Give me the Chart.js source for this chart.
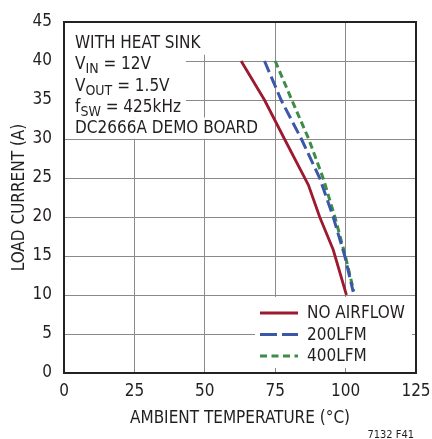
<!DOCTYPE html>
<html>
<head>
<meta charset="utf-8">
<script src="https://cdn.jsdelivr.net/npm/chart.js@4"></script>
<style>
  body { margin: 0; background: #fff; }
  #wrap { width: 432px; height: 439px; }
</style>
</head>
<body>
<div id="wrap"><canvas id="deratingChart"></canvas></div>
<script>
// load current vs ambient temperature
const noAirflowTemp = [62.9, 71.2, 78.3, 86.8, 90.8, 95.6, 100.3];
const noAirflowLoad = [40, 35, 30, 24.1, 20, 15.8, 10];
const lfm200Temp = [71.2, 77.1, 84.3, 90.8, 95.6, 99.7, 102.7];
const lfm200Load = [40, 35, 30, 25, 20, 15, 10.4];
const lfm400Temp = [75, 80.9, 86.9, 92, 96.2, 99.9, 102.9];
const lfm400Load = [40, 35, 30, 25, 20, 15, 10.5];
const seriesNames = ["NO AIRFLOW", "200LFM", "400LFM"];
const xTickValues = [0, 25, 50, 75, 100, 125];
const yTickValues = [0, 5, 10, 15, 20, 25, 30, 35, 40, 45];

// note lines, [text, isSubscript]
const noteLines = [
    [["WITH HEAT SINK", false]],
    [["V", false], ["IN", true], [" = 12V", false]],
    [["V", false], ["OUT", true], [" = 1.5V", false]],
    [["f", false], ["SW", true], [" = 425kHz", false]],
    [["DC2666A DEMO BOARD", false]],
];

const FONT = "'DejaVu Sans Condensed', 'DejaVu Sans', sans-serif";
const TEXT = "#231f20";

function pts(xs, ys) {
    return xs.map((x, i) => ({ x: x, y: ys[i] }));
}

function lineWidthOf(ctx, parts) {
    let w = 0;
    parts.forEach(([t, sub]) => {
        ctx.font = (sub ? "14px " : "17px ") + FONT;
        w += ctx.measureText(t).width;
    });
    return w;
}

const notesPlugin = {
    id: "notes",
    beforeDatasetsDraw(chart) {
        const { ctx, chartArea: a } = chart;
        const x0 = a.left + 11;
        const lh = 21.25;
        const base = a.top + 26;
        ctx.save();
        ctx.fillStyle = "#fff";
        const widths = noteLines.map(p => lineWidthOf(ctx, p));
        const mid = Math.max(widths[1], widths[2], widths[3]);
        // first line
        ctx.fillRect(a.left + 1, a.top + 1, x0 + widths[0] + 6 - a.left, base + 5.75 - a.top);
        // subscript lines
        ctx.fillRect(a.left + 1, base + 5.75, x0 + mid + 4 - a.left, lh * 3);
        // last line
        ctx.fillRect(a.left + 1, base + 5.75 + lh * 3, x0 + widths[4] + 4 - a.left, lh);
        // legend background
        ctx.fillRect(a.right - 161, a.bottom - 76, 157, 71);
        ctx.restore();
    },
    afterDatasetsDraw(chart) {
        const { ctx, chartArea: a } = chart;
        ctx.save();
        ctx.fillStyle = TEXT;
        ctx.textBaseline = "alphabetic";
        ctx.textAlign = "left";
        const x0 = a.left + 11;
        noteLines.forEach((parts, i) => {
            const y = a.top + 26 + i * 21.25;
            let x = x0;
            parts.forEach(([t, sub]) => {
                ctx.font = (sub ? "14px " : "17px ") + FONT;
                ctx.fillText(t, x, sub ? y + 4 : y);
                x += ctx.measureText(t).width;
            });
        });

        // legend
        const rows = [a.bottom - 60, a.bottom - 38.5, a.bottom - 17];
        chart.data.datasets.forEach((ds, i) => {
            ctx.strokeStyle = ds.borderColor;
            ctx.lineWidth = 3;
            ctx.setLineDash(ds.legendDash);
            ctx.beginPath();
            ctx.moveTo(a.right - 156, rows[i]);
            ctx.lineTo(a.right - 118, rows[i]);
            ctx.stroke();
            ctx.setLineDash([]);
            ctx.font = "17px " + FONT;
            ctx.textBaseline = "middle";
            ctx.fillText(ds.label, a.right - 109, rows[i] + 1);
        });

        // frame
        ctx.strokeStyle = "#222";
        ctx.lineWidth = 2;
        ctx.strokeRect(a.left, a.top, a.right - a.left, a.bottom - a.top);

        // figure number
        ctx.font = "11px " + FONT;
        ctx.textAlign = "right";
        ctx.textBaseline = "alphabetic";
        ctx.fillText("7132 F41", a.right - 2, 438);
        ctx.restore();
    },
};

const ctx = document.getElementById("deratingChart").getContext("2d");
new Chart(ctx, {
    type: "line",
    data: {
        datasets: [
            {
                label: seriesNames[0],
                data: pts(noAirflowTemp, noAirflowLoad),
                borderColor: "#9c1a30",
                borderWidth: 2.8,
                legendDash: [],
            },
            {
                label: seriesNames[1],
                data: pts(lfm200Temp, lfm200Load),
                borderColor: "#3b58a8",
                borderWidth: 3,
                borderDash: [12, 5],
                legendDash: [17, 5],
            },
            {
                label: seriesNames[2],
                data: pts(lfm400Temp, lfm400Load),
                borderColor: "#3d8c48",
                borderWidth: 3,
                borderDash: [7, 4],
                legendDash: [7, 4.5],
            },
        ],
    },
    options: {
        responsive: true,
        maintainAspectRatio: false,
        animation: false,
        layout: { padding: { top: 22, right: 16, left: 0, bottom: 0 } },
        elements: { point: { radius: 0 }, line: { tension: 0 } },
        plugins: { legend: { display: false }, tooltip: { enabled: false } },
        scales: {
            x: {
                type: "linear",
                min: 0,
                max: 125,
                afterBuildTicks: s => { s.ticks = xTickValues.map(v => ({ value: v })); },
                afterFit: s => { s.height = 66; s.paddingLeft = 0; s.paddingRight = 0; },
                grid: { color: "#8a8a8a", lineWidth: 1, drawTicks: false },
                border: { display: false },
                ticks: { padding: 8, color: TEXT, font: { family: FONT, size: 17 }, maxRotation: 0 },
                title: {
                    display: true,
                    text: "AMBIENT TEMPERATURE (°C)",
                    color: TEXT,
                    font: { family: FONT, size: 17 },
                    padding: { top: 0, bottom: 10 },
                },
            },
            y: {
                min: 0,
                max: 45,
                afterBuildTicks: s => { s.ticks = yTickValues.map(v => ({ value: v })); },
                afterFit: s => { s.width = 64; s.paddingTop = 0; s.paddingBottom = 0; },
                grid: { color: "#8a8a8a", lineWidth: 1, drawTicks: false },
                border: { display: false },
                ticks: { padding: 12, color: TEXT, font: { family: FONT, size: 17 } },
                title: {
                    display: true,
                    text: "LOAD CURRENT (A)",
                    color: TEXT,
                    font: { family: FONT, size: 17 },
                    padding: { top: 9, bottom: 0 },
                },
            },
        },
    },
    plugins: [notesPlugin],
});
</script>
</body>
</html>
